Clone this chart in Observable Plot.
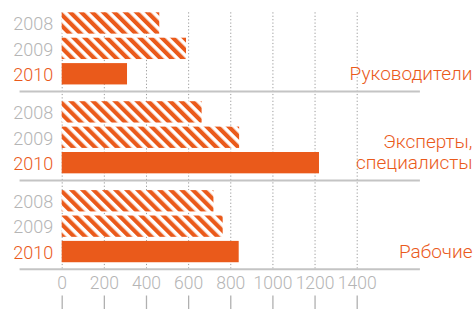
<!DOCTYPE html>
<html><head><meta charset="utf-8">
<script src="https://cdn.jsdelivr.net/npm/d3@7"></script>
<script src="https://cdn.jsdelivr.net/npm/@observablehq/plot@0.6"></script>
<style>
html,body{margin:0;padding:0;background:#fff;}
</style>
</head><body>
<div id="chart"></div>
<script>
const groups = ["Руководители", "Эксперты,\nспециалисты", "Рабочие"];
const years = ["2008", "2009", "2010"];
const rukovoditeli = [463, 590, 310];
const eksperty = [664, 842, 1221];
const rabochie = [720, 764, 840];
const tickValues = [0, 200, 400, 600, 800, 1000, 1200, 1400];

const ORANGE = "#EA5A1B";
const series = [rukovoditeli, eksperty, rabochie];
const GROUP_STEP = 3.5;
const BAR_H = 0.84;

const bars = groups.flatMap((g, gi) => years.map((yr, yi) => ({
  group: g, year: yr, value: series[gi][yi], pos: gi * GROUP_STEP + yi
})));
const groupRows = groups.map((g, gi) => ({
  group: g, start: gi * GROUP_STEP, lines: g.split("\n").length
}));

const plot = Plot.plot({
  width: 475, height: 309, margin: 0,
  x: {domain: [0, 1400], range: [61.7, 356.7], axis: null},
  y: {domain: [0, 10.5], range: [12.3, 12.3 + 10.5 * 25.4], axis: null},
  style: {fontFamily: "Roboto, 'Liberation Sans', sans-serif", background: "#fff"},
  marks: [
    Plot.ruleX(tickValues, {x: d => d, y1: 0, y2: 10.1, stroke: "#9a9a9a", strokeWidth: 1, strokeDasharray: "1.2,2.2"}),
    Plot.rectX(bars, {x1: 0, x2: "value", y1: "pos", y2: d => d.pos + BAR_H,
      fill: d => d.year === "2010" ? ORANGE : "url(#hatch)"}),
    Plot.ruleY(groupRows, {y: d => d.start + 3.1, x1: -200, x2: 1700, stroke: "#c4c4c4", strokeWidth: 2}),
    Plot.text(bars, {x: 0, dx: -9, y: d => d.pos + BAR_H / 2, dy: 1, text: "year", textAnchor: "end",
      fill: d => d.year === "2010" ? ORANGE : "#b5b5b5", fontSize: 18, fontWeight: 300}),
    Plot.text(groupRows, {frameAnchor: "right", dx: -3, y: d => d.start + (d.lines > 1 ? 1.96 : 2.38),
      text: "group", textAnchor: "end", lineAnchor: "middle", lineHeight: 1.15,
      fill: ORANGE, fontSize: 19, fontWeight: 300}),
    Plot.text(tickValues, {x: d => d, y: 10.64, text: d => String(d), lineAnchor: "middle",
      fill: "#b5b5b5", fontSize: 17.5, fontWeight: 300}),
    Plot.ruleX(tickValues, {x: d => d, y1: 11.15, y2: 11.7, stroke: "#b0b0b0", strokeWidth: 1.3})
  ]
});

const svg = d3.select(plot);
const defs = svg.insert("defs", ":first-child");
const pat = defs.append("pattern")
  .attr("id", "hatch").attr("patternUnits", "userSpaceOnUse")
  .attr("width", 7.8).attr("height", 7.8)
  .attr("patternTransform", "rotate(-45)");
pat.append("rect").attr("width", 7.8).attr("height", 7.8).attr("fill", "#fff");
pat.append("rect").attr("width", 4.2).attr("height", 7.8).attr("fill", ORANGE);

document.getElementById("chart").appendChild(plot);
</script>
</body></html>
